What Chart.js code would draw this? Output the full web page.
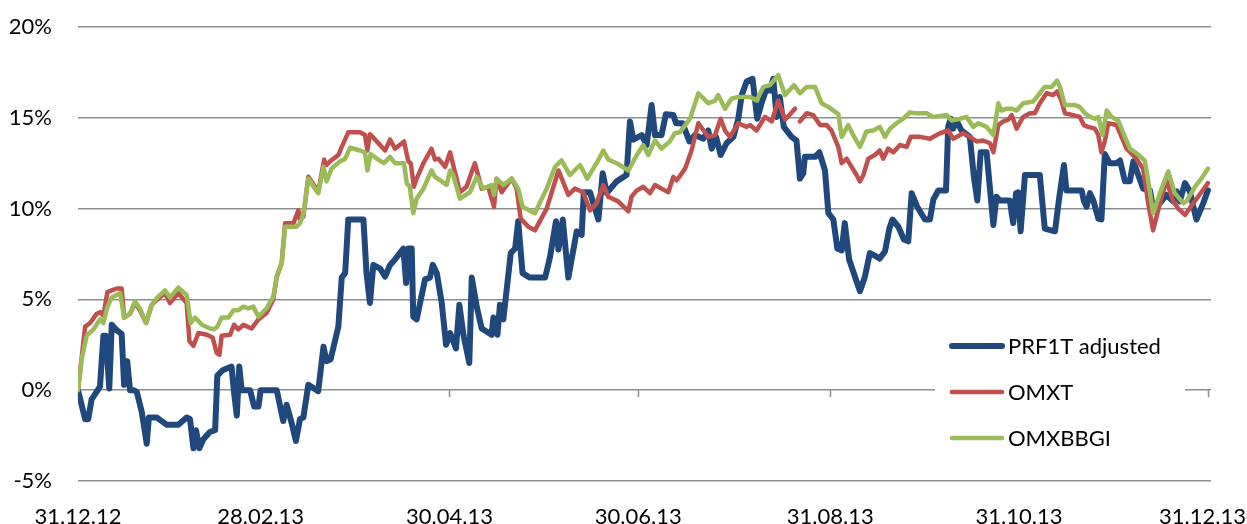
<!DOCTYPE html>
<html>
<head>
<meta charset="utf-8">
<script src="https://cdn.jsdelivr.net/npm/chart.js@4.4.1/dist/chart.umd.min.js"></script>
<style>
  html, body { margin: 0; padding: 0; background: #fff; }
  canvas { display: block; }
</style>
</head>
<body>
<canvas id="chart" width="1247" height="524"></canvas>
<script>
// x values are days since 31.12.12, y values are % change
const tickDays = [0, 59, 120, 181, 243, 304, 365];
const tickLabels = ['31.12.12', '28.02.13', '30.04.13', '30.06.13', '31.08.13', '31.10.13', '31.12.13'];
const seriesNames = ['PRF1T adjusted', 'OMXT', 'OMXBBGI'];

const prfDays = [0, 2.3, 3.3, 4.4, 7.1, 8.2, 9.0, 10.1, 10.9, 12.5, 14.1, 14.9, 15.9, 16.8, 18.1, 19.0, 20.6, 22.2, 22.9, 25.4,
  28.6, 32.4, 35.1, 36.2, 37.3, 38.1, 39.2, 40.5, 42.6, 44.3, 45.0, 46.7, 49.6, 50.4, 51.3, 52.1, 52.9, 55.6, 56.9, 58.3,
  59.0, 64.2, 66.3, 67.4, 69.0, 70.4, 71.7, 72.8, 74.4, 77.6, 79.3, 80.3, 81.6, 84.1, 85.2, 86.3, 87.3, 92.2, 93.2, 94.3,
  95.4, 97.6, 99.2, 100.8, 102.4, 105.1, 106.0, 106.7, 107.8, 108.3, 109.4, 112.1, 113.7, 114.6, 115.9, 117.5, 118.9, 120.2, 122.1, 123.2,
  124.5, 126.4, 127.2, 128.8, 130.4, 133.6, 134.2, 135.5, 136.3, 137.4, 139.8, 141.2, 142.2, 143.6, 146.0, 150.9, 152.5, 154.4, 155.2, 156.6,
  158.4, 161.1, 162.7, 163.4, 165.4, 168.1, 169.5, 170.8, 174.0, 177.2, 178.3, 179.4, 182.1, 183.7, 185.3, 186.4, 188.5, 189.9, 192.3, 193.2,
  195.3, 197.5, 199.3, 202.0, 203.6, 204.7, 206.1, 207.6, 209.5, 211.7, 213.3, 214.4, 216.0, 217.9, 219.4, 220.8, 222.2, 223.5, 224.6, 225.7,
  226.7, 228.0, 230.5, 232.1, 233.2, 234.3, 234.8, 238.1, 239.5, 241.3, 242.4, 244.0, 245.3, 246.7, 247.7, 249.1, 252.6, 254.2, 255.8, 258.0,
  259.0, 260.7, 262.1, 263.1, 265.0, 266.8, 268.2, 269.3, 271.1, 273.6, 275.2, 276.3, 277.9, 280.4, 281.1, 281.9, 282.7, 283.8, 285.4, 288.1,
  289.4, 290.5, 291.6, 293.5, 295.7, 296.7, 297.8, 301.0, 302.1, 303.0, 303.7, 304.5, 305.9, 310.7, 312.3, 315.6, 317.0, 318.5, 319.3, 324.2,
  324.9, 325.8, 326.9, 328.0, 329.6, 330.6, 331.7, 333.3, 335.5, 336.6, 338.2, 339.8, 340.9, 342.5, 344.1, 346.3, 347.3, 349.5, 351.6, 353.8,
  354.9, 355.9, 357.6, 359.2, 360.3, 361.3, 363.5, 365.0];
const prfValues = [0, -1.6, -1.6, -0.5, 0.2, 3.0, 3.0, 0.1, 3.6, 3.3, 3.1, 0.3, 1.6, 0.0, 0.0, -0.1, -1.2, -2.95, -1.5, -1.5,
  -1.9, -1.9, -1.5, -1.6, -3.2, -2.2, -3.2, -2.7, -2.3, -2.2, 0.8, 1.1, 1.3, -0.1, -1.4, 1.3, 0.0, 0.0, -0.9, -0.9,
  0.0, 0.0, -1.7, -0.8, -1.8, -2.8, -1.6, -1.5, 0.3, -0.05, 2.4, 1.6, 1.7, 3.5, 6.2, 6.45, 9.4, 9.4, 6.45, 4.8,
  6.9, 6.7, 6.25, 6.9, 7.2, 7.8, 5.9, 7.8, 7.8, 4.05, 3.9, 6.1, 6.2, 6.9, 6.45, 4.8, 2.5, 3.15, 2.3, 4.7,
  3.05, 1.5, 6.2, 4.6, 3.4, 3.05, 4.0, 3.05, 4.7, 3.9, 7.55, 7.8, 9.3, 6.45, 6.2, 6.2, 7.35, 9.3, 7.75, 9.4,
  6.2, 8.75, 8.55, 10.9, 10.9, 9.4, 11.95, 10.85, 11.5, 11.85, 14.8, 13.8, 14.05, 13.5, 15.7, 14.05, 14.05, 15.2, 15.15, 14.7,
  14.7, 13.7, 14.05, 13.85, 14.3, 13.3, 13.95, 12.95, 13.6, 13.95, 14.95, 16.25, 17.0, 17.15, 14.95, 15.8, 16.5, 16.5, 17.15, 15.05,
  16.15, 14.5, 13.95, 13.75, 11.65, 11.95, 12.85, 12.85, 13.1, 12.1, 9.75, 9.4, 7.8, 7.7, 9.2, 7.2, 5.45, 6.25, 7.55, 7.35,
  7.25, 7.65, 8.9, 9.4, 9.0, 8.3, 8.2, 10.85, 10.1, 9.4, 9.4, 10.5, 11.0, 11.0, 14.5, 14.95, 14.4, 14.85, 14.3, 13.95,
  11.75, 10.45, 13.1, 13.1, 9.1, 10.65, 10.45, 10.45, 9.2, 10.85, 10.9, 8.75, 11.85, 11.85, 8.9, 8.75, 10.65, 12.4, 11.0, 11.0,
  10.45, 10.1, 10.85, 10.45, 9.45, 9.4, 13.0, 12.5, 12.5, 12.65, 11.5, 11.5, 12.6, 11.85, 11.1, 11.0, 10.0, 10.3, 10.75, 10.4,
  10.95, 10.4, 11.4, 10.95, 10.1, 9.4, 10.3, 11.0];

const omxtDays = [0, 2.3, 3.9, 6.0, 7.1, 8.2, 9.5, 10.9, 12.5, 14.1, 14.9, 16.8, 18.4, 20.0, 22.0, 23.8, 25.6, 28.1, 29.7, 32.4,
  35.1, 36.0, 37.3, 38.9, 41.6, 43.5, 44.8, 45.7, 46.4, 49.1, 50.4, 51.8, 53.4, 56.1, 58.3, 60.9, 63.1, 64.2, 65.8, 66.9,
  69.6, 71.2, 71.7, 72.8, 74.4, 76.6, 77.6, 79.5, 80.3, 81.4, 84.1, 85.2, 87.3, 91.1, 92.7, 93.5, 94.3, 96.5, 99.2, 100.8,
  102.4, 105.3, 106.7, 107.5, 108.5, 109.4, 111.6, 114.2, 115.3, 116.4, 118.6, 120.2, 121.2, 123.4, 125.5, 128.2, 130.4, 132.5, 134.4, 135.2,
  136.9, 138.5, 140.1, 141.7, 143.0, 145.5, 147.6, 151.4, 155.2, 158.4, 160.5, 163.2, 165.4, 167.5, 169.7, 171.3, 174.5, 177.8, 178.8, 180.5,
  182.6, 184.8, 186.4, 188.5, 190.7, 192.3, 193.4, 196.1, 198.2, 200.4, 203.6, 205.8, 207.6, 209.0, 210.6, 213.3, 216.0, 217.1, 219.2, 221.9,
  224.1, 226.2, 228.4, 229.8, 231.6, 232.4, 233.2, 235.4, 237.5, 239.7, 241.8, 243.4, 245.6, 246.7, 248.3, 249.9, 251.5, 252.6, 253.7, 255.3,
  257.4, 259.0, 260.1, 261.7, 263.4, 265.5, 267.7, 269.0, 272.0, 275.2, 278.4, 281.1, 282.7, 286.0, 288.1, 290.3, 292.4, 294.6, 295.7, 297.3,
  298.9, 300.5, 301.6, 303.2, 305.3, 307.5, 309.1, 310.7, 312.9, 315.0, 316.3, 317.7, 318.8, 321.5, 323.6, 324.9, 326.3, 328.5, 329.6, 330.6,
  331.7, 332.8, 335.5, 337.1, 338.7, 341.4, 344.1, 345.7, 347.3, 349.5, 351.6, 353.8, 355.4, 357.6, 360.3, 362.9, 365.0];
const omxtValues = [0, 3.5, 3.7, 4.2, 4.3, 4.1, 5.4, 5.5, 5.6, 5.6, 4.0, 4.2, 4.8, 4.4, 3.7, 4.7, 5.0, 5.35, 4.8, 5.35,
  4.8, 2.7, 2.45, 3.15, 3.05, 2.9, 2.05, 1.95, 3.0, 3.05, 3.6, 3.35, 3.6, 3.4, 3.9, 4.25, 5.0, 6.25, 7.0, 9.2,
  9.2, 9.9, 9.4, 9.55, 11.75, 11.2, 10.9, 12.7, 12.4, 12.6, 12.95, 13.4, 14.2, 14.2, 14.05, 13.2, 14.1, 13.7, 13.2, 13.8,
  13.3, 13.7, 12.6, 12.5, 11.2, 11.65, 12.5, 13.3, 12.7, 12.75, 12.3, 13.1, 12.4, 10.9, 11.2, 12.5, 11.1, 11.2, 10.1, 11.65,
  10.9, 11.3, 11.65, 11.1, 9.45, 9.0, 8.8, 10.0, 12.1, 10.75, 11.1, 10.9, 9.9, 10.3, 11.3, 10.65, 10.4, 9.85, 10.65, 11.0,
  11.2, 10.85, 11.3, 11.1, 10.9, 11.75, 11.55, 12.2, 13.2, 14.7, 13.95, 14.05, 14.95, 14.3, 13.95, 14.7, 14.5, 14.6, 14.3, 15.05,
  14.8, 15.95, 14.9, 15.15, 15.5, null, 14.8, 15.25, 15.15, 14.6, 14.6, 14.3, 13.4, 12.5, 12.75, 12.3, 11.85, 11.5, 11.85, 12.75,
  12.95, 13.2, 12.75, 13.3, 13.1, 13.5, 13.4, 13.95, 13.95, 13.85, 14.15, 14.3, 13.85, 14.15, 13.95, 13.7, 13.75, 13.6, 13.1, 14.6,
  14.8, 14.9, 15.15, 14.4, 15.05, 15.25, 15.25, 15.8, 16.35, 16.25, 16.45, 15.95, 15.25, 15.15, 15.05, 14.6, 14.5, 14.4, 14.05, 13.1,
  13.7, 14.7, 14.6, 13.95, 13.3, 12.85, 12.2, 10.3, 8.8, 10.3, 11.55, 10.4, 10.0, 9.65, 10.3, 10.9, 11.4];

const bbgiDays = [0, 1.2, 2.8, 5.0, 7.1, 8.2, 9.5, 10.9, 12.5, 13.6, 14.9, 16.8, 18.4, 20.0, 22.0, 23.8, 25.6, 28.1, 29.7, 32.4,
  35.1, 36.4, 37.8, 40.0, 42.6, 43.9, 45.0, 46.4, 48.6, 50.2, 51.8, 53.4, 55.0, 56.6, 58.3, 60.9, 63.1, 64.2, 65.8, 66.9,
  70.6, 71.7, 72.8, 74.4, 76.6, 77.6, 79.3, 80.3, 81.9, 84.6, 86.3, 87.9, 91.1, 92.7, 93.5, 94.5, 96.5, 98.8, 100.8, 102.4,
  105.3, 106.2, 107.2, 108.3, 109.4, 111.6, 114.2, 115.3, 117.5, 119.1, 120.2, 121.2, 123.4, 126.6, 128.8, 130.9, 133.6, 134.4, 135.2, 137.4,
  140.1, 142.2, 143.6, 147.6, 151.4, 154.1, 156.2, 158.9, 162.2, 164.5, 167.5, 169.7, 171.3, 174.0, 177.8, 180.5, 182.6, 184.2, 186.4, 188.5,
  191.2, 192.8, 194.4, 197.7, 200.4, 203.6, 205.8, 206.8, 209.0, 211.1, 213.3, 217.1, 219.2, 221.4, 223.5, 226.2, 228.4, 231.3, 233.2, 235.4,
  238.1, 240.2, 242.4, 245.6, 246.7, 248.8, 250.4, 252.6, 254.7, 256.9, 259.0, 260.7, 262.3, 264.4, 266.6, 268.7, 270.4, 274.1, 276.3, 280.6,
  282.2, 284.9, 287.0, 289.2, 290.8, 293.5, 295.7, 297.3, 298.3, 300.0, 301.6, 303.2, 305.3, 308.6, 310.2, 312.3, 314.5, 316.3, 317.2, 318.8,
  322.0, 323.6, 325.3, 326.9, 328.5, 329.6, 331.0, 332.3, 333.9, 336.0, 338.2, 339.8, 341.9, 344.6, 345.7, 347.3, 349.5, 352.2, 354.3, 357.0,
  358.1, 360.8, 362.9, 365.0];
const bbgiValues = [0, 1.7, 3.0, 3.35, 3.9, 3.7, 4.6, 5.1, 5.25, 5.35, 4.0, 4.2, 4.9, 4.5, 3.7, 4.7, 5.1, 5.5, 5.1, 5.65,
  5.25, 3.7, 4.0, 3.6, 3.4, 3.35, 3.5, 4.0, 4.0, 4.4, 4.4, 4.6, 4.5, 4.6, 4.05, 4.5, 5.15, 6.25, 7.0, 9.0,
  9.0, 9.2, 9.7, 11.65, 11.1, 10.85, 12.3, 11.5, 12.2, 12.6, 12.75, 13.35, 13.2, 13.1, 12.1, 13.0, 12.75, 12.5, 12.85, 12.5,
  12.5, 11.4, 11.2, 9.75, 10.55, 11.1, 12.1, 11.75, 11.5, 11.3, 12.1, 11.85, 10.55, 10.9, 11.75, 11.1, 11.3, 10.75, 11.65, 11.3,
  11.65, 11.1, 10.1, 9.75, 11.1, 12.3, 12.65, 11.85, 12.4, 11.65, 12.5, 13.2, 12.7, 12.5, 12.1, 12.95, 13.5, 12.95, 13.75, 13.3,
  13.7, 14.15, 14.2, 14.95, 16.35, 15.8, 15.95, 16.25, 15.5, 16.05, 16.15, 16.15, 15.95, 16.7, 16.8, 17.35, 16.25, 16.8, 16.35, 16.7,
  16.7, 15.8, 15.6, 15.2, 13.95, 14.6, 14.05, 13.4, 14.25, 14.3, 14.5, 13.95, 14.4, 14.7, 14.95, 15.3, 15.25, 15.25, 15.05, 15.15,
  14.85, 14.95, 15.05, 14.5, 14.7, 14.5, 14.05, 15.8, 15.4, 15.5, 15.5, 15.4, 15.8, 15.9, 16.25, 16.7, 16.7, 17.05, 16.7, 15.7,
  15.7, 15.6, 15.25, 15.05, 14.95, 15.05, 14.05, 15.4, 15.05, 14.85, 13.95, 13.3, 13.05, 12.65, 11.55, 9.75, 10.85, 12.05, 10.85, 10.3,
  10.4, 11.2, 11.65, 12.2];

const colors = ['#1F497D', '#C0504D', '#9BBB59'];
const widths = [6, 4.5, 4.5];
const gridColor = '#8e8e8e';
const fontFamily = 'Lato, "Open Sans", sans-serif';

const toPoints = (days, values) => days.map((d, i) => ({ x: d, y: values[i] }));

// tick marks on the 0% axis, date labels at the bottom, legend box over the plot
const extras = {
  id: 'extras',
  beforeDatasetsDraw(chart) {
    const { ctx } = chart;
    const xs = chart.scales.x, ys = chart.scales.y;
    const y0 = ys.getPixelForValue(0);
    ctx.save();
    ctx.strokeStyle = gridColor;
    ctx.lineWidth = 1.5;
    tickDays.forEach(d => {
      const x = Math.round(xs.getPixelForValue(d)) + 0.5;
      ctx.beginPath();
      ctx.moveTo(x, y0);
      ctx.lineTo(x, y0 + 7);
      ctx.stroke();
    });
    ctx.restore();
  },
  afterDraw(chart) {
    const { ctx, chartArea, width } = chart;
    const xs = chart.scales.x;
    ctx.save();
    ctx.font = '22px ' + fontFamily;
    ctx.fillStyle = '#000';
    ctx.textBaseline = 'middle';
    ctx.textAlign = 'center';
    tickDays.forEach((d, i) => {
      const w = ctx.measureText(tickLabels[i]).width;
      let x = xs.getPixelForValue(d);
      x = Math.min(x, width - 1 - w / 2);
      ctx.fillText(tickLabels[i], x, chartArea.bottom + 36);
    });

    const left = chartArea.right - 276;
    const top = chartArea.top + 292;
    ctx.fillStyle = '#fff';
    ctx.fillRect(left, top, 250, 142);
    ctx.textAlign = 'left';
    chart.data.datasets.forEach((ds, i) => {
      const y = top + 27 + i * 46;
      ctx.strokeStyle = ds.borderColor;
      ctx.lineWidth = ds.borderWidth;
      ctx.lineCap = 'round';
      ctx.beginPath();
      ctx.moveTo(left + 17, y);
      ctx.lineTo(left + 67, y);
      ctx.stroke();
      ctx.fillStyle = '#000';
      ctx.fillText(ds.label, left + 73, y + 1);
    });
    ctx.restore();
  }
};

new Chart(document.getElementById('chart'), {
  type: 'line',
  data: {
    datasets: [
      { label: seriesNames[0], data: toPoints(prfDays, prfValues), borderColor: colors[0], borderWidth: widths[0], order: 3 },
      { label: seriesNames[1], data: toPoints(omxtDays, omxtValues), borderColor: colors[1], borderWidth: widths[1], order: 2 },
      { label: seriesNames[2], data: toPoints(bbgiDays, bbgiValues), borderColor: colors[2], borderWidth: widths[2], order: 1 }
    ]
  },
  options: {
    responsive: false,
    animation: false,
    spanGaps: false,
    layout: { padding: { left: 0, right: 36, top: 27, bottom: 0 } },
    elements: {
      point: { radius: 0 },
      line: { tension: 0, borderJoinStyle: 'round', borderCapStyle: 'round' }
    },
    plugins: { legend: { display: false }, tooltip: { enabled: false } },
    scales: {
      x: {
        type: 'linear',
        min: 0,
        max: 366,
        grid: { display: false, drawTicks: false },
        border: { display: false },
        ticks: { display: false },
        afterFit: axis => { axis.height = 43; axis.paddingLeft = 0; axis.paddingRight = 0; }
      },
      y: {
        min: -5,
        max: 20,
        grid: { color: gridColor, lineWidth: 1.5, drawTicks: false },
        border: { display: false },
        afterFit: axis => { axis.width = 78; axis.paddingTop = 0; axis.paddingBottom = 0; },
        ticks: {
          stepSize: 5,
          padding: 26,
          color: '#000',
          font: { family: fontFamily, size: 22 },
          callback: v => v + '%'
        }
      }
    }
  },
  plugins: [extras]
});
</script>
</body>
</html>
